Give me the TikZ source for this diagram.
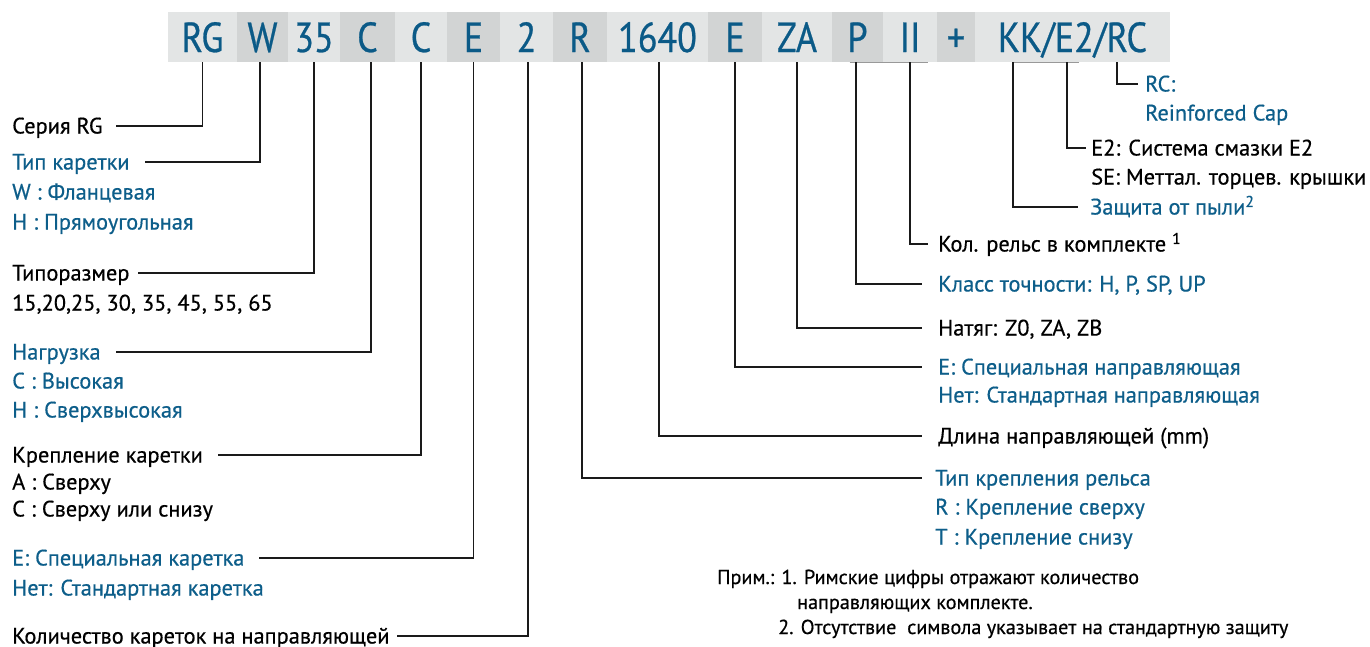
\documentclass[tikz,border=0pt]{standalone}
\usepackage{fontspec}
\setmainfont[FakeBold=0.5]{PT Sans}
\newfontfamily\codefont[FakeStretch=0.86,FakeBold=0.6]{PT Sans}
\definecolor{lblue}{HTML}{0D5E8A}
\definecolor{cblue}{HTML}{0B5A87}
\definecolor{boxlight}{HTML}{E3E5E5}
\definecolor{boxdark}{HTML}{D2D4D4}
\definecolor{linecol}{HTML}{1A1A1A}
\begin{document}
\begin{tikzpicture}[x=1pt,y=1pt,
  code/.style={inner sep=0pt, minimum height=50pt, text=cblue,
    font=\codefont\fontsize{42}{42}\selectfont, text height=30pt, text depth=0pt},
  lightbox/.style={code, fill=boxlight},
  darkbox/.style={code, fill=boxdark},
  lbl/.style={anchor=west, inner sep=0pt, font=\fontsize{22.4}{26}\selectfont,
    text height=15pt, text depth=0pt, text=black},
  blbl/.style={lbl, text=lblue},
  notelbl/.style={lbl, font=\fontsize{20.2}{24}\selectfont, text height=14pt},
  conn/.style={draw=linecol, line width=1.7pt},
  underl/.style={draw=black!40, line width=1pt}
]
\useasboundingbox (0,0) rectangle (1370,-646);
\clip (0,0) rectangle (1370,-646);
\fill[white] (0,0) rectangle (1370,-646);

% code bar
\node[lightbox, minimum width=69pt] (rg) at (202.5,-37) {RG};
\node[darkbox, minimum width=51pt] (w) at (262.5,-37) {W};
\node[lightbox, minimum width=52pt] (n35) at (314,-37) {35};
\node[darkbox, minimum width=55pt] (c1) at (367.5,-37) {C};
\node[lightbox, minimum width=52pt] (c2) at (421,-37) {C};
\node[darkbox, minimum width=53pt] (e1) at (473.5,-37) {E};
\node[lightbox, minimum width=53pt] (n2) at (526.5,-37) {2};
\node[darkbox, minimum width=54pt] (r) at (580,-37) {R};
\node[lightbox, minimum width=101pt] (len) at (657.5,-37) {1640};
\node[darkbox, minimum width=54pt] (e2) at (735,-37) {E};
\node[lightbox, minimum width=70pt] (za) at (797,-37) {ZA};
\node[darkbox, minimum width=51pt] (p) at (857.5,-37) {P};
\node[lightbox, minimum width=54pt] (ii) at (910,-37) {II};
\node[darkbox, minimum width=38pt] (plus) at (956,-37) {+};
\node[lightbox, minimum width=195pt] (kk) at (1072.5,-37) {KK/E2/RC};

\draw[underl] ([xshift=-8pt]p.south) -- ([xshift=18pt]ii.south);
\draw[underl] ([xshift=-60pt]kk.south) -- ([xshift=6pt]kk.south);

% left labels
\node[lbl]  (l1)  at (12,-126) {Серия RG};
\node[blbl] (l2)  at (12,-162) {Тип каретки};
\node[blbl] (l2a) at (12,-192) {W : Фланцевая};
\node[blbl] (l2b) at (12,-222) {H : Прямоугольная};
\node[lbl]  (l3)  at (12,-273) {Типоразмер};
\node[lbl]  (l3a) at (12,-303) {15,20,25, 30, 35, 45, 55, 65};
\node[blbl] (l4)  at (12,-352) {Нагрузка};
\node[blbl] (l4a) at (12,-381) {C : Высокая};
\node[blbl] (l4b) at (12,-410) {H : Сверхвысокая};
\node[lbl]  (l5)  at (12,-455) {Крепление каретки};
\node[lbl]  (l5a) at (12,-482) {A : Сверху};
\node[lbl]  (l5b) at (12,-509) {C : Сверху или снизу};
\node[blbl] (l6)  at (12,-558) {E: Специальная каретка};
\node[blbl] (l6a) at (12,-588) {Нет: Стандартная каретка};
\node[lbl]  (l7)  at (12,-636) {Количество кареток на направляющей};

% right labels
\node[blbl] (rc)   at (1145,-84)  {RC:};
\node[blbl] (rca)  at (1145,-113) {Reinforced Cap};
\node[lbl]  (re2)  at (1091,-148) {E2: Система смазки E2};
\node[lbl]  (rse)  at (1091,-177) {SE: Меттал. торцев. крышки};
\node[blbl] (rdu)  at (1090,-207) {Защита от пыли\textsuperscript{2}};
\node[lbl]  (rii)  at (938,-244)  {Кол. рельс в комплекте \textsuperscript{1}};
\node[blbl] (rp)   at (938,-284)  {Класс точности: H, P, SP, UP};
\node[lbl]  (rza)  at (938,-328)  {Натяг: Z0, ZA, ZB};
\node[blbl] (re)   at (938,-367)  {E: Специальная направляющая};
\node[blbl] (rea)  at (938,-395)  {Нет: Стандартная направляющая};
\node[lbl]  (rlen) at (938,-436)  {Длина направляющей (mm)};
\node[blbl] (rr)   at (935,-478)  {Тип крепления рельса};
\node[blbl] (rra)  at (935,-507)  {R : Крепление сверху};
\node[blbl] (rrb)  at (935,-537)  {T : Крепление снизу};

% notes
\node[notelbl] (n1) at (717,-577) {Прим.: 1. Римские цифры отражают количество};
\node[notelbl] (n1a) at (797,-602) {направляющих комплекте.};
\node[notelbl] (n2n) at (778,-627) {2. Отсутствие\ \ символа указывает на стандартную защиту};

% connectors left
\draw[conn] (rg.south) |- ([xshift=13pt]l1.east);
\draw[conn] ([xshift=-2.5pt]w.south) |- ([xshift=15pt]l2.east);
\draw[conn] (n35.south) |- ([xshift=8pt]l3.east);
\draw[conn] ([xshift=3.5pt]c1.south) |- ([xshift=15pt]l4.east);
\draw[conn] (c2.south) |- ([xshift=15pt]l5.east);
\draw[conn] (e1.south) |- ([xshift=14pt]l6.east);
\draw[conn] ([xshift=1.5pt]n2.south) |- ([xshift=7pt]l7.east);

% connectors right
\draw[conn] ([xshift=2pt]r.south) |- ([xshift=-13pt]rr.west);
\draw[conn] ([xshift=1.5pt]len.south) |- ([xshift=-16pt]rlen.west);
\draw[conn] (e2.south) |- ([xshift=-16pt]re.west);
\draw[conn] (za.south) |- ([xshift=-16pt]rza.west);
\draw[conn] ([xshift=-1.5pt]p.south) |- ([xshift=-16pt]rp.west);
\draw[conn] (ii.south) |- ([xshift=-10pt]rii.west);
\draw[conn] ([xshift=-59.5pt]kk.south) |- ([xshift=-12pt]rdu.west);
\draw[conn] ([xshift=-5.5pt]kk.south) |- ([xshift=-5pt]re2.west);
\draw[conn] ([xshift=44.5pt]kk.south) |- ([xshift=-7pt]rc.west);
\end{tikzpicture}
\end{document}
